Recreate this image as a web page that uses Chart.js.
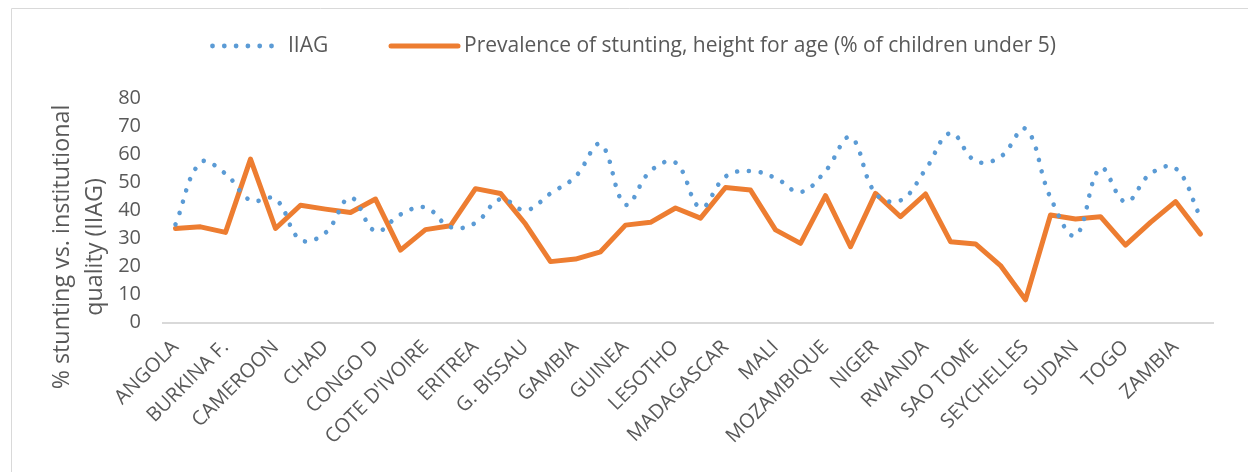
<!DOCTYPE html>
<html>
<head>
<meta charset="utf-8">
<script src="https://cdn.jsdelivr.net/npm/chart.js@4/dist/chart.umd.min.js"></script>
<style>
  html, body { margin: 0; padding: 0; background: #fff; overflow: hidden; }
</style>
</head>
<body>
<canvas id="myChart" width="1248" height="472"></canvas>
<script>
// categories (only every other one gets a label on the axis)
const countries = [
  "ANGOLA", "BENIN", "BURKINA F.", "BURUNDI", "CAMEROON", "CAPE VERDE", "CHAD", "COMOROS",
  "CONGO D", "CONGO R", "COTE D'IVOIRE", "DJIBOUTI", "ERITREA", "ETHIOPIA", "G. BISSAU", "GABON",
  "GAMBIA", "GHANA", "GUINEA", "KENYA", "LESOTHO", "LIBERIA", "MADAGASCAR", "MALAWI",
  "MALI", "MAURITANIA", "MOZAMBIQUE", "NAMIBIA", "NIGER", "NIGERIA", "RWANDA", "S. LEONE",
  "SAO TOME", "SENEGAL", "SEYCHELLES", "SOUTH AFRICA", "SUDAN", "TANZANIA", "TOGO", "UGANDA",
  "ZAMBIA", "ZIMBABWE"
];

const iiag = [
  35, 57, 53, 43.5, 44, 29.5, 32, 44.5, 32.5, 38.5, 41, 34, 35.5, 44,
  40, 46, 52, 63.5, 42, 54, 57, 41, 52, 54, 51.5, 46.5, 54, 66,
  46, 43.5, 54.5, 67.5, 57.5, 59, 69, 44.5, 31, 55, 43, 53, 55, 37.5
];

const stunting = [
  33.5, 34.1, 32.1, 58.2, 33.5, 41.8, 40.4, 39.2, 44.0, 25.8, 33.1, 34.5, 47.7, 46.0,
  35.1, 21.7, 22.6, 25.2, 34.7, 35.7, 40.8, 37.2, 48.1, 47.2, 33.0, 28.2, 45.2, 27.0,
  46.0, 37.7, 45.8, 28.8, 28.0, 20.3, 8.1, 38.3, 36.9, 37.7, 27.6, 35.7, 43.1, 31.5
];

const seriesNames = ["IIAG", "Prevalence of stunting, height for age (% of children under 5)"];
const yTitle = ["% stunting vs. institutional", "quality (IIAG)"];
const yMin = 0, yMax = 80, yStep = 10;

const textColor = "#595959";
const fontName = "'Open Sans', Lato, sans-serif";

// frame, y title and legend drawn by hand
const decor = {
  id: "decor",
  beforeDraw(chart) {
    const c = chart.ctx;
    c.save();
    c.strokeStyle = "#d9d9d9";
    c.lineWidth = 1;
    c.beginPath();
    c.moveTo(11.5, 472);
    c.lineTo(11.5, 8.5);
    c.lineTo(1248, 8.5);
    c.stroke();
    c.restore();
  },
  afterDraw(chart) {
    const c = chart.ctx;
    const ds = chart.data.datasets;
    c.save();
    // y title, two lines
    c.fillStyle = textColor;
    c.font = "23.3px " + fontName;
    c.textAlign = "center";
    c.textBaseline = "middle";
    c.translate(0, 247);
    c.rotate(-Math.PI / 2);
    c.fillText(yTitle[0], 0, 62);
    c.fillText(yTitle[1], 0, 95);
    c.restore();

    // legend
    c.save();
    const ly = 46;
    c.fillStyle = ds[0].borderColor;
    for (let k = 0; k < 6; k++) {
      c.beginPath();
      c.arc(212.5 + k * 11.8, ly, 2.4, 0, Math.PI * 2);
      c.fill();
    }
    c.strokeStyle = ds[1].borderColor;
    c.lineWidth = ds[1].borderWidth;
    c.lineCap = "round";
    c.beginPath();
    c.moveTo(391, ly);
    c.lineTo(458, ly);
    c.stroke();
    c.fillStyle = textColor;
    c.font = "21px " + fontName;
    c.textBaseline = "middle";
    c.textAlign = "left";
    c.fillText(ds[0].label, 288, ly);
    c.fillText(ds[1].label, 464, ly);
    c.restore();
  }
};

let ctx = document.getElementById("myChart").getContext("2d");
let myChart = new Chart(ctx, {
  type: "line",
  data: {
    labels: countries,
    datasets: [
      {
        label: seriesNames[0],
        data: iiag,
        borderColor: "#5B9BD5",
        borderWidth: 4.6,
        borderDash: [0.01, 11.8],
        borderCapStyle: "round",
        tension: 0.4,
        pointRadius: 0,
        fill: false,
      },
      {
        label: seriesNames[1],
        data: stunting,
        borderColor: "#ED7D31",
        borderWidth: 5,
        borderJoinStyle: "round",
        borderCapStyle: "round",
        tension: 0,
        pointRadius: 0,
        fill: false,
      },
    ],
  },
  options: {
    responsive: false,
    animation: false,
    devicePixelRatio: 1,
    layout: { padding: { left: 52, right: 35, top: 98, bottom: 18 } },
    plugins: {
      legend: { display: false },
      tooltip: { enabled: false },
    },
    scales: {
      x: {
        offset: true,
        grid: { display: false },
        border: { color: "#d9d9d9", width: 2 },
        ticks: {
          autoSkip: false,
          minRotation: 45,
          maxRotation: 45,
          padding: 5,
          color: textColor,
          font: { family: fontName, size: 20 },
          callback: (v, i) => (i % 2 === 0 ? countries[i] : ""),
        },
      },
      y: {
        min: yMin,
        max: yMax,
        grid: { display: false, drawTicks: false },
        border: { display: false },
        ticks: {
          stepSize: yStep,
          padding: 22,
          color: textColor,
          font: { family: fontName, size: 20 },
        },
        afterFit(scale) { scale.width = 111; },
      },
    },
  },
  plugins: [decor],
});
</script>
</body>
</html>
